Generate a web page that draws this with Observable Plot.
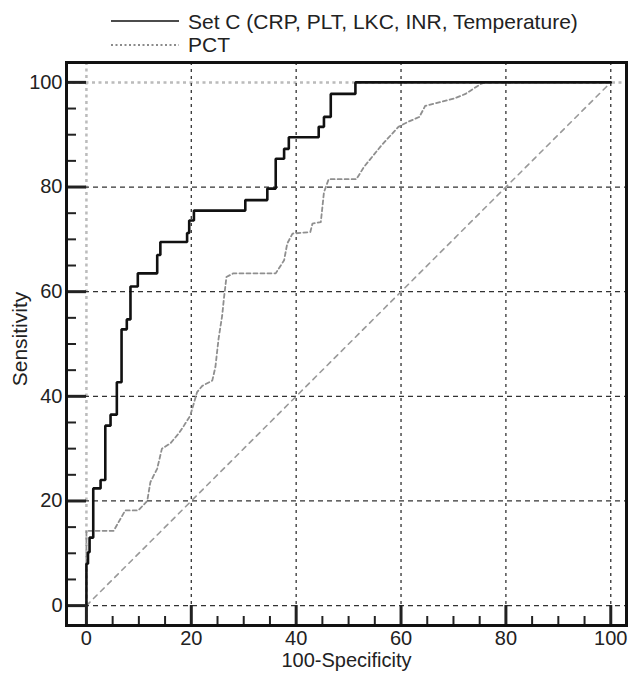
<!DOCTYPE html>
<html>
<head>
<meta charset="utf-8">
<script src="https://cdn.jsdelivr.net/npm/d3@7"></script>
<script src="https://cdn.jsdelivr.net/npm/@observablehq/plot@0.6"></script>
<style>
  body { margin: 0; background: #fff; font-family: "Liberation Sans", Arial, sans-serif; }
  #legend { width: 629px; height: 58px; display: block; }
  #chart svg { display: block; }
</style>
</head>
<body>
<svg id="legend" width="629" height="58"></svg>
<div id="chart"></div>
<script>
// ---- data (100-Specificity, Sensitivity) ----
const setCx = [0, 0, 0.3, 0.3, 0.6, 0.6, 1.3, 1.3, 2.7, 2.7, 3.6, 3.6, 4.6, 4.6, 5.8, 5.8, 6.7, 6.7, 7.7, 7.7, 8.4, 8.4, 9.8, 9.8, 13.5, 13.5, 14.1, 14.1, 19.2, 19.2, 19.6, 19.6, 20.5, 20.5, 30.3, 30.3, 34.5, 34.5, 36.1, 36.1, 37.7, 37.7, 38.6, 38.6, 44.3, 44.3, 45.3, 45.3, 46.6, 46.6, 51.3, 51.3, 100];
const setCy = [0, 8, 8, 10.2, 10.2, 13, 13, 22.4, 22.4, 24, 24, 34.4, 34.4, 36.5, 36.5, 42.7, 42.7, 52.8, 52.8, 54.7, 54.7, 61, 61, 63.5, 63.5, 67, 67, 69.5, 69.5, 71.2, 71.2, 73.6, 73.6, 75.5, 75.5, 77.5, 77.5, 79.7, 79.7, 85.4, 85.4, 87.3, 87.3, 89.5, 89.5, 91.5, 91.5, 93.4, 93.4, 97.8, 97.8, 100, 100];

const pctX = [0, 0, 5.2, 6.5, 7.4, 9.9, 11.6, 12.2, 13.5, 14.4, 16, 17.6, 18.6, 19.8, 21.1, 22.1, 24, 24.6, 25.2, 25.9, 26.2, 26.7, 28, 36.1, 37.7, 38.3, 39.3, 42.7, 43.1, 44.7, 45.3, 46.2, 51.5, 52.9, 56.3, 59.5, 61.2, 63.5, 64.6, 70.1, 72.3, 75.2, 76, 100];
const pctY = [0, 14.3, 14.3, 16.6, 18.2, 18.2, 20, 23.6, 26.2, 30, 31, 32.9, 34.4, 36.3, 40.8, 42, 43, 45.6, 51, 55.5, 58.5, 62.8, 63.5, 63.5, 66, 69.2, 71.1, 71.4, 73, 73.3, 79, 81.5, 81.5, 83.8, 88, 91.5, 92.4, 93.4, 95.5, 96.9, 97.8, 99.7, 100, 100];

const chanceLine = [0, 100];
const majorTicks = [0, 20, 40, 60, 80, 100];
const gridDark = [20, 40, 60, 80];
const minorTicks = [5, 10, 15, 25, 30, 35, 45, 50, 55, 65, 70, 75, 85, 90, 95];
const seriesNames = ["Set C (CRP, PLT, LKC, INR, Temperature)", "PCT"];
const xLabel = "100-Specificity";
const yLabel = "Sensitivity";

const setC = setCx.map((x, i) => ({x, y: setCy[i]}));
const pct = pctX.map((x, i) => ({x, y: pctY[i]}));

// ---- legend (above the plot) ----
const leg = d3.select("#legend");
leg.append("line").attr("x1", 111).attr("x2", 179).attr("y1", 21).attr("y2", 21)
  .attr("stroke", "#111").attr("stroke-width", 1.6);
leg.append("line").attr("x1", 111).attr("x2", 179).attr("y1", 45).attr("y2", 45)
  .attr("stroke", "#666").attr("stroke-width", 1.6).attr("stroke-dasharray", "2,2.5");
leg.append("text").attr("x", 188).attr("y", 29).text(seriesNames[0])
  .attr("font-size", 21).attr("fill", "#222");
leg.append("text").attr("x", 188).attr("y", 52).text(seriesNames[1])
  .attr("font-size", 21).attr("fill", "#222");

// ---- plot ----
const W = 629, H = 615, mL = 66, mR = 3, mT = 4, mB = 48;
const fw = W - mL - mR, fh = H - mT - mB;

const chart = Plot.plot({
  width: W,
  height: H,
  marginLeft: mL,
  marginRight: mR,
  marginTop: mT,
  marginBottom: mB,
  style: {fontFamily: "Liberation Sans, Arial, sans-serif", fontSize: "20px", color: "#222", background: "#fff"},
  x: {domain: [-3.8, 103], axis: null},
  y: {domain: [-3.8, 103.8], axis: null},
  marks: [
    // light grey dotted reference lines at 0 (x) and 100 (y)
    Plot.ruleX([0], {stroke: "#bbb", strokeWidth: 2.5, strokeDasharray: "3,3.5"}),
    Plot.ruleY([100], {stroke: "#bbb", strokeWidth: 2.5, strokeDasharray: "3,3.5"}),
    // dark dashed grid
    Plot.ruleX([...gridDark, 100], {stroke: "#333", strokeWidth: 1.3, strokeDasharray: "3,4"}),
    Plot.ruleY([0, ...gridDark], {stroke: "#333", strokeWidth: 1.3, strokeDasharray: "5,4"}),
    // chance diagonal
    Plot.line(chanceLine, {x: d => d, y: d => d, stroke: "#999", strokeWidth: 1.6, strokeDasharray: "5,5"}),
    // PCT
    Plot.line(pct, {x: "x", y: "y", stroke: "#8f8f8f", strokeWidth: 1.8, strokeDasharray: "4,3"}),
    // Set C
    Plot.line(setC, {x: "x", y: "y", stroke: "#111", strokeWidth: 2.6, strokeLinejoin: "miter"}),
    // inner ticks
    Plot.tickY(minorTicks, {y: d => d, stroke: "#222", strokeWidth: 2, insetRight: fw - 10}),
    Plot.tickY(majorTicks, {y: d => d, stroke: "#222", strokeWidth: 3, insetRight: fw - 20}),
    Plot.tickX(minorTicks, {x: d => d, stroke: "#222", strokeWidth: 2, insetTop: fh - 9}),
    Plot.tickX(majorTicks, {x: d => d, stroke: "#222", strokeWidth: 3, insetTop: fh - 20}),
    Plot.frame({stroke: "#111", strokeWidth: 3}),
    // axes
    Plot.axisX(majorTicks, {tickSize: 0, tickPadding: 5, fontSize: 20, label: null}),
    Plot.axisY(majorTicks, {tickSize: 0, tickPadding: 4, fontSize: 20, label: null}),
    Plot.text([xLabel], {frameAnchor: "bottom", dy: 35, textAnchor: "middle", lineAnchor: "middle", fontSize: 20, fill: "#222"}),
    Plot.text([yLabel], {frameAnchor: "left", dx: -46, dy: -5, rotate: -90, textAnchor: "middle", lineAnchor: "middle", fontSize: 21, fill: "#222"})
  ]
});
document.getElementById("chart").appendChild(chart);
</script>
</body>
</html>
